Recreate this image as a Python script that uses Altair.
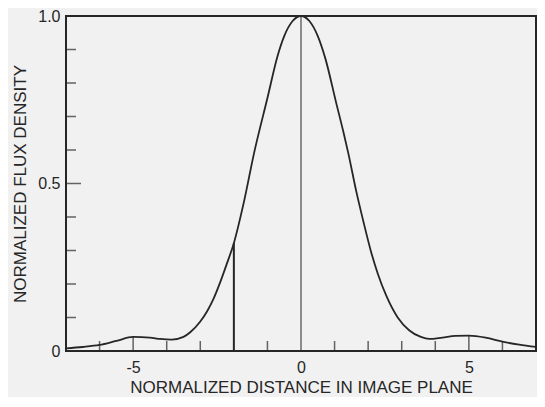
import altair as alt
import pandas as pd

# Curve
curve_x = [-7, -6.5, -6, -5.5, -5, -4.5, -4.2, -3.85, -3.5, -3.3, -3.0, -2.8, -2.6, -2.4, -2.2, -2.0,
           -1.7, -1.4, -1.0, -0.7, -0.5, -0.25, 0, 0.25, 0.5, 0.72, 1.05, 1.26, 1.41, 1.65, 1.85,
           2.09, 2.29, 2.54, 2.88, 3.22, 3.57, 3.82, 4.21, 4.6, 5.0, 5.5, 6.0, 6.5, 7.0]
curve_y = [0.008, 0.012, 0.018, 0.030, 0.042, 0.040, 0.036, 0.034, 0.042, 0.056, 0.088, 0.118, 0.157,
           0.207, 0.263, 0.322, 0.445, 0.59, 0.755, 0.88, 0.94, 0.985, 1.0, 0.985, 0.94, 0.875, 0.74,
           0.655, 0.59, 0.475, 0.39, 0.295, 0.23, 0.165, 0.10, 0.062, 0.042, 0.036, 0.040, 0.045,
           0.046, 0.040, 0.028, 0.019, 0.012]

# Vertical marker lines
marker_x = [0, -2]
marker_top = [1.0, 0.322]
marker_width = [1.0, 2.0]

# Tick positions
x_minor = [-6, -4, -3, -1, 1, 2, 3, 4, 6]
x_major = [-5, 5]
x_labels = [-5, 0, 5]
y_minor = [0.1, 0.2, 0.3, 0.4, 0.6, 0.7, 0.8, 0.9]
y_major = [0.5]
y_labels = [0, 0.5, 1.0]
x_min, x_max = -7, 7
y_min, y_max = 0, 1

INK = "#262626"
FONT = "Liberation Sans"

curve_df = pd.DataFrame({"x": curve_x, "y": curve_y})
marker_df = pd.DataFrame({"x": marker_x, "base": [y_min] * len(marker_x),
                          "top": marker_top, "w": marker_width})

xscale = alt.Scale(domain=[x_min, x_max], nice=False, zero=False)
yscale = alt.Scale(domain=[y_min, y_max], nice=False, zero=False)

xaxis = alt.Axis(values=x_labels, ticks=False, domain=False, grid=False,
                 labelExpr="datum.value < 0 ? '-' + format(-datum.value, 'd') : format(datum.value, 'd')",
                 labelFontSize=16, labelFont=FONT, labelColor=INK, labelPadding=8,
                 title="NORMALIZED DISTANCE IN IMAGE PLANE", titleFontSize=17,
                 titleFont=FONT, titleFontWeight="normal", titleColor=INK, titlePadding=4)
yaxis = alt.Axis(values=y_labels, ticks=False, domain=False, grid=False,
                 labelExpr="datum.value == 0 ? '0' : format(datum.value, '.1f')",
                 labelFontSize=16, labelFont=FONT, labelColor=INK, labelPadding=6,
                 title="NORMALIZED FLUX DENSITY", titleFontSize=17, titleFont=FONT,
                 titleFontWeight="normal", titleColor=INK, titlePadding=8)

line = alt.Chart(curve_df).mark_line(interpolate="monotone", color=INK, strokeWidth=1.8).encode(
    x=alt.X("x:Q", scale=xscale, axis=xaxis),
    y=alt.Y("y:Q", scale=yscale, axis=yaxis),
)

markers = alt.Chart(marker_df).mark_rule(color=INK).encode(
    x=alt.X("x:Q", scale=xscale),
    y=alt.Y("base:Q", scale=yscale),
    y2=alt.Y2("top:Q"),
    strokeWidth=alt.StrokeWidth("w:Q", scale=None, legend=None),
)

xminor_df = pd.DataFrame({"x": x_minor, "y": [y_min] * len(x_minor)})
xmajor_df = pd.DataFrame({"x": x_major, "y": [y_min] * len(x_major)})
yminor_df = pd.DataFrame({"y": y_minor, "x": [x_min] * len(y_minor)})
ymajor_df = pd.DataFrame({"y": y_major, "x": [x_min] * len(y_major)})

def tick(df, orient, size, **offs):
    return alt.Chart(df).mark_tick(orient=orient, size=size, thickness=1.5,
                                   color=INK, **offs).encode(
        x=alt.X("x:Q", scale=xscale), y=alt.Y("y:Q", scale=yscale))

xminor = tick(xminor_df, "vertical", 10, yOffset=-5)
xmajor = tick(xmajor_df, "vertical", 15, yOffset=-7.5)
yminor = tick(yminor_df, "horizontal", 10, xOffset=5)
ymajor = tick(ymajor_df, "horizontal", 15, xOffset=7.5)

chart = alt.layer(markers, xminor, xmajor, yminor, ymajor, line).properties(
    width=470, height=335,
    autosize=alt.AutoSizeParams(type="none"),
    padding={"left": 58, "top": 8, "right": 1, "bottom": 46},
    background="#f1f1f1",
).configure_view(stroke=INK, strokeWidth=2)

chart.save("out.html", embed_options={"renderer": "svg", "actions": False})
